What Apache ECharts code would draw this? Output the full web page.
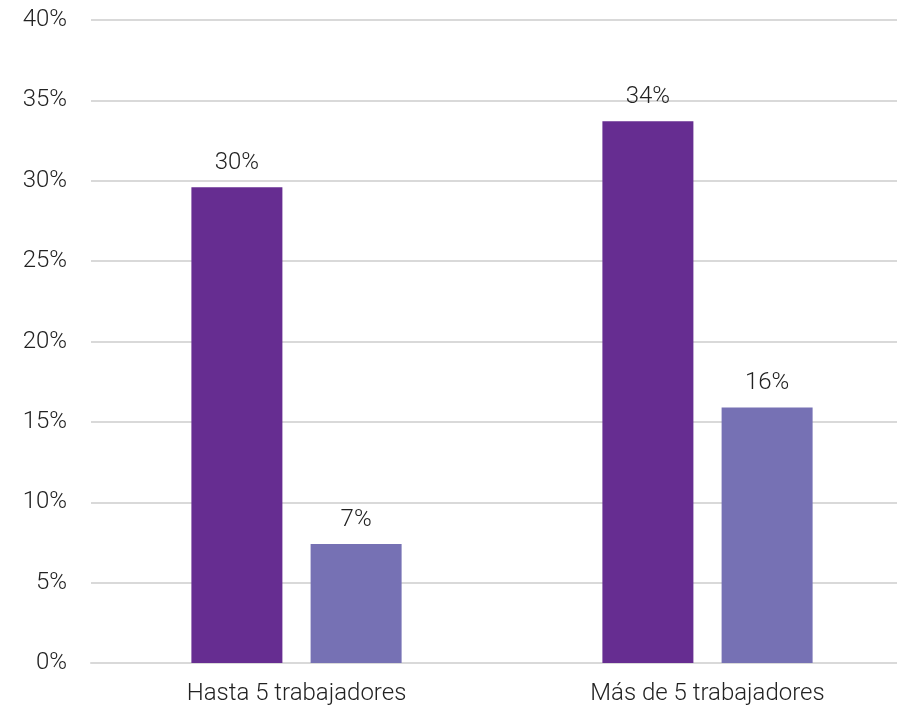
<!DOCTYPE html>
<html><head><meta charset="utf-8">
<script src="https://cdn.jsdelivr.net/npm/echarts@6/dist/echarts.min.js"></script>
<style>html,body{margin:0;padding:0;background:#fff;overflow:hidden}#c{width:913px;height:710px}</style>
</head><body><div id="c"></div>
<script>
const categories = ['Hasta 5 trabajadores', 'Más de 5 trabajadores'];
const seriesA = [29.6, 33.7];
const seriesB = [7.4, 15.9];
const yTicks = [0, 5, 10, 15, 20, 25, 30, 35, 40];

const chart = echarts.init(document.getElementById('c'));
const font = 'Roboto, "Noto Sans", sans-serif';
const lbl = {show: true, position: 'top', distance: 12, fontSize: 24, fontWeight: 300, color: '#222', fontFamily: font,
  formatter: p => Math.round(p.value) + '%'};
chart.setOption({
  animation: false,
  grid: {left: 91, right: 0, top: 20, bottom: 47, containLabel: false},
  xAxis: {type: 'category', data: categories,
    axisLine: {lineStyle: {color: '#d9d9d9', width: 2}}, axisTick: {show: false},
    axisLabel: {fontSize: 24, fontWeight: 300, color: '#222', fontFamily: font, margin: 19}},
  yAxis: {type: 'value', min: yTicks[0], max: yTicks[yTicks.length-1], interval: 5,
    axisLine: {show: false}, axisTick: {show: false},
    splitLine: {lineStyle: {color: '#d9d9d9', width: 2}},
    axisLabel: {fontSize: 24, fontWeight: 300, color: '#222', fontFamily: font, margin: 24, formatter: v => v + '%'}},
  series: [
    {type: 'bar', data: seriesA, barWidth: 91, barGap: '31%', itemStyle: {color: '#662D91'}, label: lbl},
    {type: 'bar', data: seriesB, barWidth: 91, itemStyle: {color: '#7671B4'}, label: lbl}
  ]
});
</script></body></html>
